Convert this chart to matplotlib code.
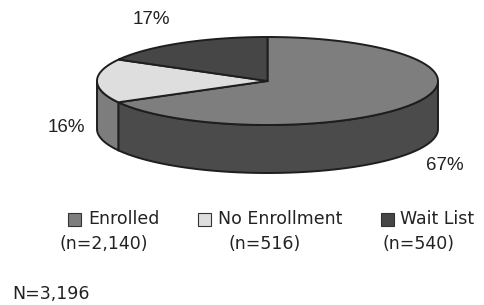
import numpy as np
import matplotlib.pyplot as plt
from matplotlib.patches import Polygon, Rectangle

# data
categories = ['Enrolled', 'No Enrollment', 'Wait List']
counts = [2140, 516, 540]
top_colors = ['#7e7e7e', '#dedede', '#464646']
side_colors = ['#4b4b4b', '#7d7d7d', '#2e2e2e']

# pie geometry (pixel coords, y down)
cx, cy = 267.5, 81
rx, ry = 170.5, 44
depth = 48
edge = '#1e1e1e'

fig = plt.figure(figsize=(4.84, 3.05), dpi=100)
ax = fig.add_axes([0, 0, 1, 1])
ax.set_xlim(0, 484)
ax.set_ylim(305, 0)
ax.axis('off')

total = sum(counts)
fracs = np.array(counts) / total
# start at 12 o'clock, go clockwise
bounds = 90 - 360 * np.concatenate([[0], np.cumsum(fracs)])


def rim(t):
    t = np.radians(t)
    return cx + rx * np.cos(t), cy - ry * np.sin(t)


# front sides first
for i in range(len(counts)):
    a0, a1 = bounds[i], bounds[i + 1]  # a0 > a1
    # visible front half: angles in [-180, 0]
    lo, hi = max(a1, -180), min(a0, 0)
    if lo >= hi:
        continue
    t = np.linspace(hi, lo, 80)
    x, y = rim(t)
    pts = np.column_stack([np.r_[x, x[::-1]], np.r_[y, y[::-1] + depth]])
    ax.add_patch(Polygon(pts, closed=True, fc=side_colors[i], ec=edge, lw=1.4))

# top faces
for i in range(len(counts)):
    t = np.linspace(bounds[i], bounds[i + 1], 120)
    x, y = rim(t)
    pts = np.column_stack([np.r_[cx, x], np.r_[cy, y]])
    ax.add_patch(Polygon(pts, closed=True, fc=top_colors[i], ec=edge, lw=1.4))

# percentage labels
pct_pos = [(445, 165), (66, 128), (151, 20)]
for f, (px, py) in zip(fracs, pct_pos):
    ax.text(px, py, f'{round(f * 100):.0f}%', ha='center', va='center',
            fontsize=13.5, family='Liberation Sans', color='#222222')

# legend
sq = 13
leg = [(68, 88, 104), (198, 218, 265), (381, 400, 418)]
for i, (sx, tx, nx) in enumerate(leg):
    ax.add_patch(Rectangle((sx, 213), sq, sq, fc=top_colors[i], ec='#333333', lw=0.8))
    ax.text(tx, 219.5, categories[i], ha='left', va='center',
            fontsize=12.5, color='#222222')
    ax.text(nx, 244, f'(n={counts[i]:,})', ha='center', va='center',
            fontsize=12.5, color='#222222')

ax.text(12, 294, f'N={total:,}', ha='left', va='center', fontsize=12.5, color='#222222')

fig.savefig('out.png', dpi=100)
